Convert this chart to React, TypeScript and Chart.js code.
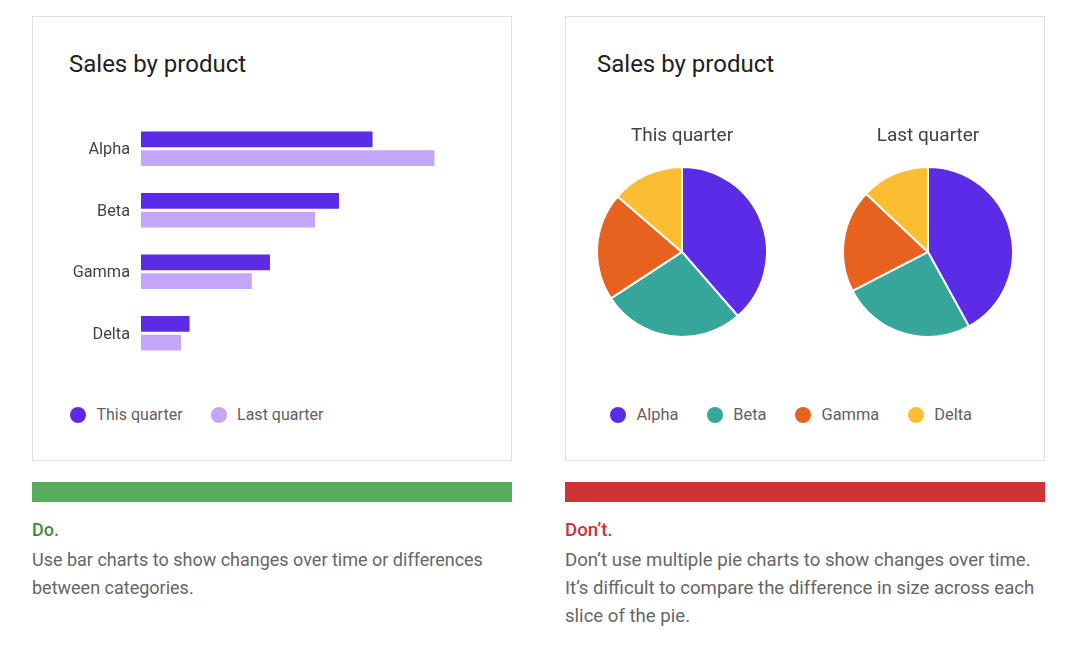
import React, { useEffect, useRef } from 'react';
import { Chart, registerables } from 'chart.js';

Chart.register(...registerables);
Chart.defaults.font.family = 'Roboto, "Noto Sans", sans-serif';

// ---- data ----
const categories = ['Alpha', 'Beta', 'Gamma', 'Delta'];
const seriesLabels = ['This quarter', 'Last quarter'];
const thisQuarterSales = [67.7, 57.9, 37.7, 14.2];
const lastQuarterSales = [85.8, 50.9, 32.4, 11.7];
const salesAxisMax = 100;
const thisQuarterShare = [38.6, 27.2, 20.5, 13.7];
const lastQuarterShare = [42.0, 25.4, 19.6, 13.0];

// ---- styles ----
const PURPLE = '#5b2be6';
const LAVENDER = '#c4a6f8';
const PIE_COLORS = ['#5b2be6', '#36a59a', '#e8621f', '#fbbe32'];
const FONT = 'Roboto, "Noto Sans", sans-serif';

function BarChart() {
  const ref = useRef<HTMLCanvasElement | null>(null);
  useEffect(() => {
    if (!ref.current) return;
    const chart = new Chart(ref.current, {
      type: 'bar',
      data: {
        labels: categories,
        datasets: [
          { label: seriesLabels[0], data: thisQuarterSales, backgroundColor: PURPLE, categoryPercentage: 0.61, barPercentage: 0.834 },
          { label: seriesLabels[1], data: lastQuarterSales, backgroundColor: LAVENDER, categoryPercentage: 0.61, barPercentage: 0.834 },
        ],
      },
      options: {
        indexAxis: 'y',
        animation: false,
        responsive: false,
        layout: { padding: 0 },
        plugins: { legend: { display: false }, tooltip: { enabled: false } },
        scales: {
          x: { display: false, min: 0, max: salesAxisMax },
          y: {
            grid: { display: false, drawTicks: false },
            border: { display: false },
            ticks: { color: '#424242', font: { size: 16.3 }, padding: 11, labelOffset: 1.5 },
            afterFit: (s: any) => {
              s.width = 108;
              s.paddingTop = 0;
              s.paddingBottom = 0;
            },
          },
        },
      },
    } as any);
    return () => chart.destroy();
  }, []);
  return <canvas ref={ref} width={450} height={246} style={{ position: 'absolute', left: 33, top: 118 }} />;
}

function PieChart({ title, values, left }: { title: string; values: number[]; left: number }) {
  const ref = useRef<HTMLCanvasElement | null>(null);
  useEffect(() => {
    if (!ref.current) return;
    const chart = new Chart(ref.current, {
      type: 'pie',
      data: {
        labels: categories,
        datasets: [{ data: values, backgroundColor: PIE_COLORS, borderColor: '#ffffff', borderWidth: 2 }],
      },
      options: {
        animation: false,
        responsive: false,
        layout: { padding: 0 },
        plugins: {
          legend: { display: false },
          tooltip: { enabled: false },
          title: {
            display: true,
            text: title,
            color: '#424242',
            font: { size: 19, weight: 'normal' },
            padding: { top: 0, bottom: 18 },
          },
        },
      },
    } as any);
    return () => chart.destroy();
  }, []);
  return <canvas ref={ref} width={172} height={213} style={{ position: 'absolute', left, top: 125 }} />;
}

function Legend({ items, colors, left, size, gap }: { items: string[]; colors: string[]; left: number; size: number; gap: number }) {
  return (
    <div style={{ position: 'absolute', left, top: 407, height: 16, display: 'flex', alignItems: 'center', gap }}>
      {items.map((t, i) => (
        <div key={t} style={{ display: 'flex', alignItems: 'center' }}>
          <div style={{ width: 16, height: 16, borderRadius: '50%', background: colors[i], marginRight: 10.5 }} />
          <span style={{ font: `${size}px/16px ${FONT}`, color: '#616161', whiteSpace: 'nowrap' }}>{t}</span>
        </div>
      ))}
    </div>
  );
}

const cardStyle = (left: number): React.CSSProperties => ({
  position: 'absolute',
  left,
  top: 16,
  width: 480,
  height: 445,
  border: '1px solid #e0e0e0',
  boxSizing: 'border-box',
});

const titleStyle = (left: number): React.CSSProperties => ({
  position: 'absolute',
  left,
  top: 48,
  font: `24px/32px ${FONT}`,
  color: '#212121',
  whiteSpace: 'nowrap',
});

export default function App() {
  return (
    <div style={{ position: 'fixed', left: 0, top: 0, width: 1080, height: 653, background: '#ffffff', overflow: 'hidden', fontFamily: FONT }}>
      <div style={cardStyle(32)} />
      <div style={cardStyle(565)} />
      <div style={titleStyle(69)}>Sales by product</div>
      <div style={titleStyle(597)}>Sales by product</div>
      <BarChart />
      <PieChart title="This quarter" values={thisQuarterShare} left={596} />
      <PieChart title="Last quarter" values={lastQuarterShare} left={842} />
      <Legend items={seriesLabels} colors={[PURPLE, LAVENDER]} left={70} size={16} gap={28} />
      <Legend items={categories} colors={PIE_COLORS} left={610} size={16.4} gap={28.5} />

      <div style={{ position: 'absolute', left: 32, top: 482, width: 480, height: 20, background: '#54ad58' }} />
      <div style={{ position: 'absolute', left: 565, top: 482, width: 480, height: 20, background: '#d03236' }} />

      <div style={{ position: 'absolute', left: 32, top: 516, font: `500 18px/28px ${FONT}`, color: '#3b8b3f' }}>Do.</div>
      <div style={{ position: 'absolute', left: 32, top: 546, width: 480, font: `18px/28px ${FONT}`, color: '#666666' }}>
        Use bar charts to show changes over time or differences between categories.
      </div>
      <div style={{ position: 'absolute', left: 565, top: 516, font: `500 18.6px/28px ${FONT}`, color: '#cc2f3a' }}>Don’t.</div>
      <div style={{ position: 'absolute', left: 565, top: 546, width: 480, font: `18.6px/28px ${FONT}`, color: '#666666' }}>
        Don’t use multiple pie charts to show changes over time. It’s difficult to compare the difference in size across each slice of the pie.
      </div>
    </div>
  );
}
